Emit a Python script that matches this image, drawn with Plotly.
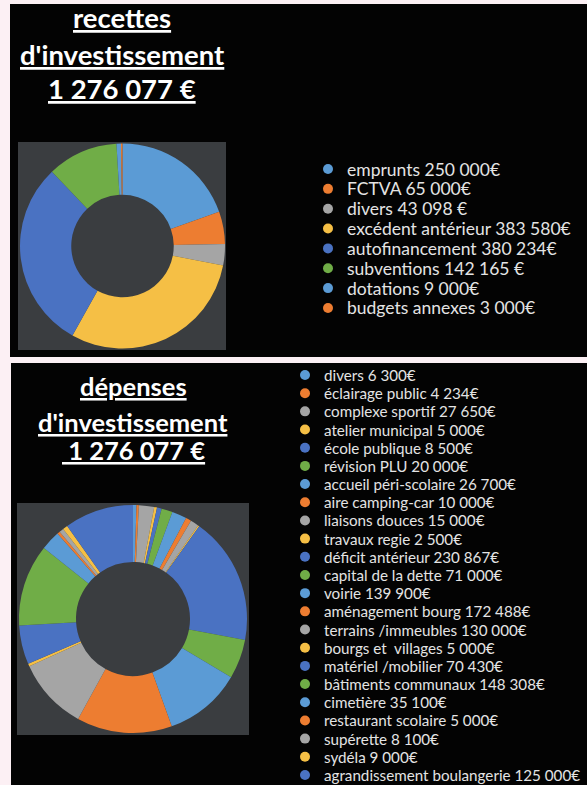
import plotly.graph_objects as go

W, H = 587, 785

# ---------------- data ----------------
rec_labels = ["emprunts 250 000€", "FCTVA 65 000€", "divers 43 098 €",
              "excédent antérieur 383 580€", "autofinancement 380 234€",
              "subventions 142 165 €", "dotations 9 000€", "budgets annexes 3 000€"]
rec_values = [250000, 65000, 43098, 383580, 380234, 142165, 9000, 3000]

dep_labels = ["divers 6 300€", "éclairage public 4 234€", "complexe sportif 27 650€",
              "atelier municipal 5 000€", "école publique 8 500€", "révision PLU 20 000€",
              "accueil péri-scolaire 26 700€", "aire camping-car 10 000€",
              "liaisons douces 15 000€", "travaux regie 2 500€", "déficit antérieur 230 867€",
              "capital de la dette 71 000€", "voirie 139 900€", "aménagement bourg 172 488€",
              "terrains /immeubles 130 000€", "bourgs et  villages 5 000€",
              "matériel /mobilier 70 430€", "bâtiments communaux 148 308€",
              "cimetière 35 100€", "restaurant scolaire 5 000€", "supérette 8 100€",
              "sydéla 9 000€", "agrandissement boulangerie 125 000€"]
dep_values = [6300, 4234, 27650, 5000, 8500, 20000, 26700, 10000, 15000, 2500, 230867,
              71000, 139900, 172488, 130000, 5000, 70430, 148308, 35100, 5000, 8100,
              9000, 125000]

rec_title = ["recettes", "d'investissement", "1 276 077 €"]
dep_title = ["dépenses", "d'investissement", " 1 276 077 €"]

palette = ["#5B9BD5", "#ED7D31", "#A5A5A5", "#F5BF45", "#4A72C2", "#70AD47"]

# ---------------- styling ----------------
PINK = "#fcf0f4"
BLACK = "#030303"
GREY_BOX = "#3a3d40"
FONT = "Lato"


def cols(n):
    return [palette[i % len(palette)] for i in range(n)]


def dom_x(cx, r):
    return [(cx - r) / W, (cx + r) / W]


def dom_y(cy, r):
    return [1 - (cy + r) / H, 1 - (cy - r) / H]


fig = go.Figure()

# pies
fig.add_trace(go.Pie(
    labels=rec_labels, values=rec_values, hole=0.5, sort=False,
    direction="clockwise", rotation=0, textinfo="none", hoverinfo="label",
    marker=dict(colors=cols(len(rec_values)), line=dict(width=0)),
    domain=dict(x=dom_x(122.5, 102.5), y=dom_y(246, 102.5)), showlegend=False))

fig.add_trace(go.Pie(
    labels=dep_labels, values=dep_values, hole=0.5, sort=False,
    direction="clockwise", rotation=0, textinfo="none", hoverinfo="label",
    marker=dict(colors=cols(len(dep_values)), line=dict(width=0)),
    domain=dict(x=dom_x(133, 114), y=dom_y(619, 114)), showlegend=False))

# legend markers (scatter on a pixel-space axis)
rec_y0, rec_dy, rec_mx, rec_tx = 169, 19.85, 328, 345
dep_y0, dep_dy, dep_mx, dep_tx = 375, 18.18, 305, 322

rec_ys = [rec_y0 + i * rec_dy for i in range(len(rec_labels))]
dep_ys = [dep_y0 + i * dep_dy for i in range(len(dep_labels))]

fig.add_trace(go.Scatter(
    x=[rec_mx] * len(rec_labels), y=rec_ys, mode="markers",
    marker=dict(size=10, color=cols(len(rec_labels)), line=dict(width=0)),
    hoverinfo="skip", showlegend=False))
fig.add_trace(go.Scatter(
    x=[dep_mx] * len(dep_labels), y=dep_ys, mode="markers",
    marker=dict(size=10, color=cols(len(dep_labels)), line=dict(width=0)),
    hoverinfo="skip", showlegend=False))

annotations = []
for lab, y in zip(rec_labels, rec_ys):
    annotations.append(dict(x=rec_tx, y=y, xref="x", yref="y", text=lab,
                            showarrow=False, xanchor="left", yanchor="middle",
                            font=dict(family=FONT, size=17.5, color="#e4e4e4")))
for lab, y in zip(dep_labels, dep_ys):
    annotations.append(dict(x=dep_tx, y=y, xref="x", yref="y", text=lab,
                            showarrow=False, xanchor="left", yanchor="middle",
                            font=dict(family=FONT, size=15.2, color="#e4e4e4")))

for txt, y in zip(rec_title, [17.5, 54.5, 88.5]):
    annotations.append(dict(x=122, y=y, xref="x", yref="y", text="<u>" + txt + "</u>",
                            showarrow=False, xanchor="center", yanchor="middle",
                            font=dict(family=FONT, size=27.5, color="white", weight="bold")))
for txt, y in zip(dep_title, [386, 422, 450]):
    annotations.append(dict(x=133, y=y, xref="x", yref="y", text="<u>" + txt + "</u>",
                            showarrow=False, xanchor="center", yanchor="middle",
                            font=dict(family=FONT, size=25.5, color="white", weight="bold")))

shapes = [
    dict(type="rect", xref="x", yref="y", x0=10, x1=587, y0=4, y1=357,
         fillcolor=BLACK, line=dict(width=0), layer="below"),
    dict(type="rect", xref="x", yref="y", x0=11, x1=587, y0=363, y1=785,
         fillcolor=BLACK, line=dict(width=0), layer="below"),
    dict(type="rect", xref="x", yref="y", x0=18, x1=226, y0=142, y1=350,
         fillcolor=GREY_BOX, line=dict(width=0), layer="below"),
    dict(type="rect", xref="x", yref="y", x0=17, x1=249, y0=503, y1=735,
         fillcolor=GREY_BOX, line=dict(width=0), layer="below"),
]

fig.update_layout(
    width=W, height=H, margin=dict(l=0, r=0, t=0, b=0, pad=0),
    paper_bgcolor=PINK, plot_bgcolor="rgba(0,0,0,0)",
    xaxis=dict(range=[0, W], domain=[0, 1], visible=False, fixedrange=True),
    yaxis=dict(range=[H, 0], domain=[0, 1], visible=False, fixedrange=True),
    shapes=shapes, annotations=annotations, showlegend=False,
)

fig.write_html("out.html", config={"displayModeBar": False})
